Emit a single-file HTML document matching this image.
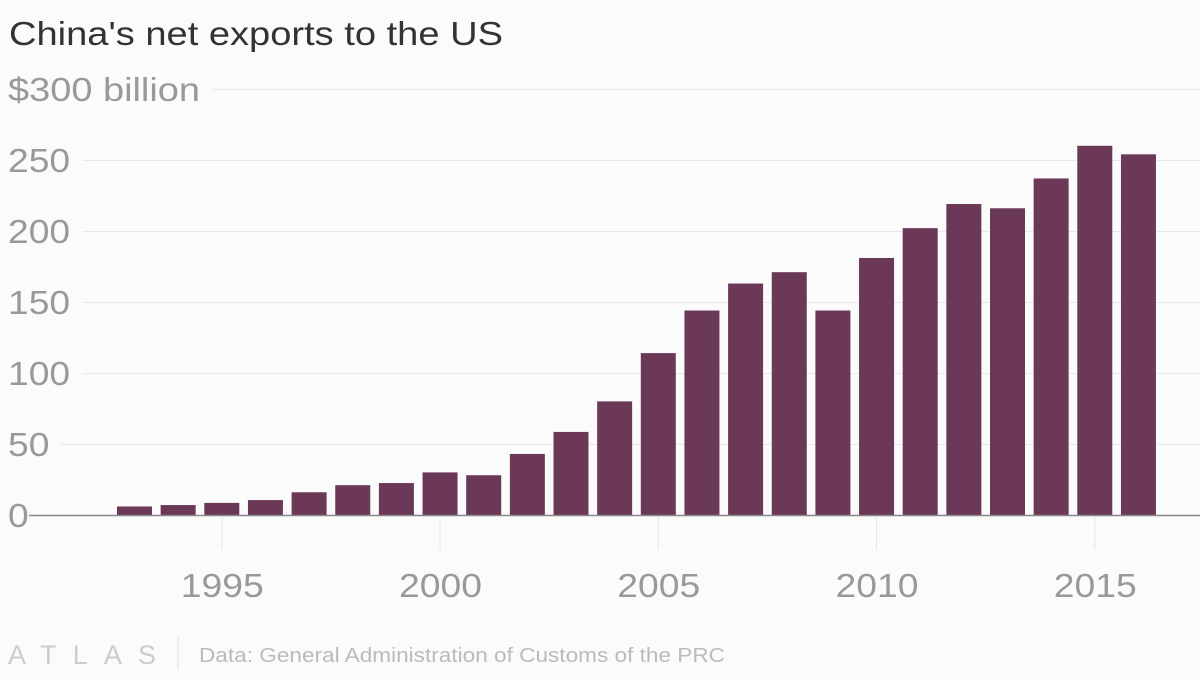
<!DOCTYPE html>
<html><head><meta charset="utf-8">
<style>
body{margin:0;background:#fbfbfb;width:1200px;height:675px;overflow:hidden;font-family:"Liberation Sans",Arial,sans-serif;}
</style></head>
<body>
<svg id="chart" width="1200" height="675" xmlns="http://www.w3.org/2000/svg">
<text x="9" y="45" font-size="33" fill="#333" textLength="494" lengthAdjust="spacingAndGlyphs">China's net exports to the US</text>
<g id="grid"></g><g id="bars"></g><g id="xt"></g>
<line x1="29" x2="1200" y1="515.5" y2="515.5" stroke="#888" stroke-width="1.5"/>
<text x="8" y="664" font-size="27" fill="#ccc" textLength="148" lengthAdjust="spacing">ATLAS</text>
<line x1="178" x2="178" y1="637" y2="670" stroke="#ddd"/>
<text x="199" y="662" font-size="20" fill="#bbb" textLength="526" lengthAdjust="spacingAndGlyphs">Data: General Administration of Customs of the PRC</text>
</svg>
<script>
const years=[1993,1994,1995,1996,1997,1998,1999,2000,2001,2002,2003,2004,2005,2006,2007,2008,2009,2010,2011,2012,2013,2014,2015,2016];
const values=[6,7,8.5,10.5,16,21,22.5,30,28,43,58.5,80,114,144,163,171,144,181,202,219,216,237,260,254];
const yTicks=[0,50,100,150,200,250,300];
const yTickLabels=["0","50","100","150","200","250","$300 billion"];
const xTicks=[1995,2000,2005,2010,2015];
const NS="http://www.w3.org/2000/svg";
const y=v=>515-v*1.42;
const step=43.65, bw=35;
const x=yr=>117+(yr-years[0])*step;
const g=document.getElementById('grid');
yTicks.forEach((t,i)=>{
  const s=yTickLabels[i];
  const w=(i===yTicks.length-1)?192:s.length*20.7;
  const lab=document.createElementNS(NS,'text');
  
  
  lab.setAttribute('x',8);lab.setAttribute('y',y(t)+12);
  lab.setAttribute('font-size','33');lab.setAttribute('fill','#999');
  lab.setAttribute('textLength',w);lab.setAttribute('lengthAdjust','spacingAndGlyphs');
  lab.textContent=s;g.appendChild(lab);
  if(t>0){
    const ln=document.createElementNS(NS,'line');
    
    
    ln.setAttribute('x1',8+w+12);ln.setAttribute('x2',1200);
    ln.setAttribute('y1',y(t)+0.5);ln.setAttribute('y2',y(t)+0.5);
    ln.setAttribute('stroke','#e8e8e8');g.appendChild(ln);
  }
});
const b=document.getElementById('bars');
years.forEach((yr,i)=>{
  const r=document.createElementNS(NS,'rect');
  
  
  r.setAttribute('x',x(yr));r.setAttribute('width',bw);
  r.setAttribute('y',y(values[i]));r.setAttribute('height',515-y(values[i]));
  r.setAttribute('fill','#6c3858');b.appendChild(r);
});
const xt=document.getElementById('xt');
xTicks.forEach(t=>{
  const c=x(t)+bw/2;
  const tk=document.createElementNS(NS,'line');
  
  
  tk.setAttribute('x1',c);tk.setAttribute('x2',c);tk.setAttribute('y1',517);tk.setAttribute('y2',550);
  tk.setAttribute('stroke','#e6e6e6');xt.appendChild(tk);
  const l=document.createElementNS(NS,'text');
  
  
  l.setAttribute('x',c-41);l.setAttribute('y',597);
  l.setAttribute('font-size','33');l.setAttribute('fill','#999');
  l.setAttribute('textLength',83);l.setAttribute('lengthAdjust','spacingAndGlyphs');
  l.textContent=t;xt.appendChild(l);
});
</script>
</body></html>
